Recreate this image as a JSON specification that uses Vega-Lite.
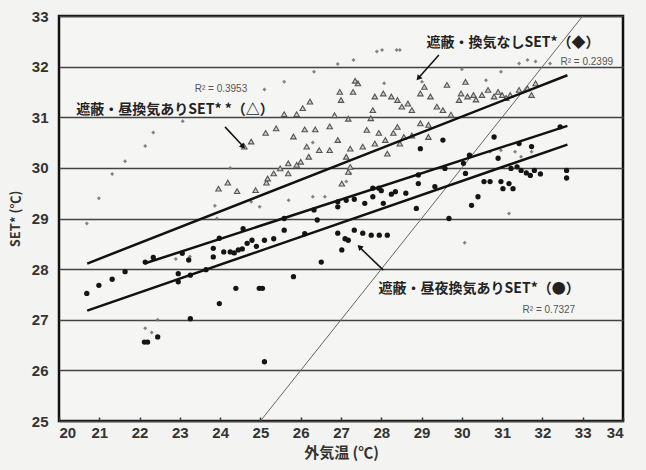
{
  "$schema": "https://vega.github.io/schema/vega-lite/v6.json",
  "width": 564,
  "height": 405,
  "autosize": "none",
  "padding": {"left": 59, "top": 16, "right": 23, "bottom": 49},
  "background": "#f3f3f1",
  "config": {
    "view": {"stroke": "#111", "strokeWidth": 2.5, "fill": "#f5f5f3"},
    "axis": {"labelFont": "Liberation Sans", "labelFontSize": 15, "labelFontWeight": "bold", "labelColor": "#333", "titleFont": "Noto Sans CJK JP", "titleFontWeight": "bold", "titleColor": "#333", "domain": false}
  },
  "datasets": {
    "pts": [
      {"series": "n", "x": 20.69, "y": 28.90}, {"series": "n", "x": 20.99, "y": 29.40}, {"series": "n", "x": 21.32, "y": 29.88}, {"series": "n", "x": 21.64, "y": 30.13},
      {"series": "n", "x": 22.14, "y": 30.43}, {"series": "n", "x": 22.34, "y": 30.70}, {"series": "n", "x": 23.07, "y": 30.92}, {"series": "n", "x": 25.10, "y": 31.55},
      {"series": "n", "x": 25.59, "y": 31.70}, {"series": "n", "x": 26.33, "y": 31.90}, {"series": "n", "x": 26.92, "y": 32.05}, {"series": "n", "x": 27.31, "y": 32.13},
      {"series": "n", "x": 27.89, "y": 32.30}, {"series": "n", "x": 28.02, "y": 32.33}, {"series": "n", "x": 28.38, "y": 32.33}, {"series": "n", "x": 28.46, "y": 32.33},
      {"series": "n", "x": 30.00, "y": 31.95}, {"series": "n", "x": 30.97, "y": 31.90}, {"series": "n", "x": 31.42, "y": 32.06}, {"series": "n", "x": 31.63, "y": 32.13},
      {"series": "n", "x": 31.83, "y": 32.10}, {"series": "n", "x": 32.19, "y": 32.06}, {"series": "n", "x": 28.07, "y": 31.67}, {"series": "n", "x": 29.01, "y": 31.70},
      {"series": "n", "x": 30.60, "y": 31.73}, {"series": "n", "x": 23.87, "y": 29.25}, {"series": "n", "x": 23.92, "y": 29.00}, {"series": "n", "x": 22.14, "y": 26.83},
      {"series": "n", "x": 22.30, "y": 26.75}, {"series": "n", "x": 22.45, "y": 27.00}, {"series": "n", "x": 31.17, "y": 29.10}, {"series": "n", "x": 30.07, "y": 28.52},
      {"series": "n", "x": 30.70, "y": 30.32}, {"series": "n", "x": 30.97, "y": 30.35}, {"series": "n", "x": 31.32, "y": 30.32}, {"series": "n", "x": 31.47, "y": 30.22},
      {"series": "n", "x": 31.73, "y": 30.32}, {"series": "n", "x": 26.30, "y": 29.43}, {"series": "n", "x": 26.60, "y": 29.43}, {"series": "n", "x": 25.70, "y": 29.36},
      {"series": "n", "x": 24.98, "y": 29.23}, {"series": "n", "x": 24.77, "y": 29.33}, {"series": "n", "x": 22.90, "y": 28.20}, {"series": "n", "x": 23.25, "y": 28.25},
      {"series": "n", "x": 27.23, "y": 29.89}, {"series": "n", "x": 27.13, "y": 29.73}, {"series": "n", "x": 24.25, "y": 30.00}, {"series": "n", "x": 26.30, "y": 30.50},

      {"series": "d", "x": 23.96, "y": 29.59}, {"series": "d", "x": 24.19, "y": 29.71}, {"series": "d", "x": 24.42, "y": 29.54}, {"series": "d", "x": 24.88, "y": 29.56},
      {"series": "d", "x": 25.15, "y": 29.71}, {"series": "d", "x": 24.60, "y": 30.42}, {"series": "d", "x": 24.77, "y": 30.52}, {"series": "d", "x": 25.13, "y": 30.69},
      {"series": "d", "x": 25.39, "y": 30.78}, {"series": "d", "x": 25.59, "y": 31.06}, {"series": "d", "x": 25.90, "y": 31.06}, {"series": "d", "x": 26.05, "y": 31.18},
      {"series": "d", "x": 26.23, "y": 31.31}, {"series": "d", "x": 25.82, "y": 30.62}, {"series": "d", "x": 26.10, "y": 30.76}, {"series": "d", "x": 26.36, "y": 30.76},
      {"series": "d", "x": 26.72, "y": 30.82}, {"series": "d", "x": 26.97, "y": 31.50}, {"series": "d", "x": 27.00, "y": 31.34}, {"series": "d", "x": 27.30, "y": 31.50},
      {"series": "d", "x": 27.42, "y": 31.67}, {"series": "d", "x": 27.35, "y": 31.72}, {"series": "d", "x": 26.84, "y": 31.04}, {"series": "d", "x": 27.18, "y": 30.97},
      {"series": "d", "x": 26.92, "y": 30.55}, {"series": "d", "x": 27.23, "y": 30.38}, {"series": "d", "x": 26.72, "y": 30.35}, {"series": "d", "x": 26.46, "y": 30.35},
      {"series": "d", "x": 26.20, "y": 30.22}, {"series": "d", "x": 26.00, "y": 30.12}, {"series": "d", "x": 25.90, "y": 30.06}, {"series": "d", "x": 25.69, "y": 30.09},
      {"series": "d", "x": 25.49, "y": 29.99}, {"series": "d", "x": 25.33, "y": 29.89}, {"series": "d", "x": 25.18, "y": 29.79}, {"series": "d", "x": 26.15, "y": 30.42},
      {"series": "d", "x": 27.13, "y": 30.22}, {"series": "d", "x": 27.54, "y": 30.42}, {"series": "d", "x": 27.64, "y": 30.75}, {"series": "d", "x": 27.74, "y": 30.98},
      {"series": "d", "x": 27.79, "y": 31.14}, {"series": "d", "x": 27.84, "y": 31.41}, {"series": "d", "x": 28.05, "y": 31.47}, {"series": "d", "x": 28.25, "y": 31.41},
      {"series": "d", "x": 28.40, "y": 31.34}, {"series": "d", "x": 28.51, "y": 31.21}, {"series": "d", "x": 28.66, "y": 31.27}, {"series": "d", "x": 28.76, "y": 31.14},
      {"series": "d", "x": 27.94, "y": 30.69}, {"series": "d", "x": 28.10, "y": 30.55}, {"series": "d", "x": 28.30, "y": 30.69}, {"series": "d", "x": 28.40, "y": 30.81},
      {"series": "d", "x": 28.56, "y": 30.61}, {"series": "d", "x": 28.76, "y": 30.64}, {"series": "d", "x": 28.15, "y": 30.28}, {"series": "d", "x": 28.97, "y": 31.47},
      {"series": "d", "x": 29.07, "y": 31.60}, {"series": "d", "x": 29.22, "y": 31.41}, {"series": "d", "x": 28.97, "y": 30.88}, {"series": "d", "x": 29.17, "y": 30.85},
      {"series": "d", "x": 29.38, "y": 31.21}, {"series": "d", "x": 29.53, "y": 31.14}, {"series": "d", "x": 29.63, "y": 31.64}, {"series": "d", "x": 29.73, "y": 31.05},
      {"series": "d", "x": 30.09, "y": 31.70}, {"series": "d", "x": 30.14, "y": 31.41}, {"series": "d", "x": 30.29, "y": 31.44}, {"series": "d", "x": 30.50, "y": 31.44},
      {"series": "d", "x": 30.65, "y": 31.54}, {"series": "d", "x": 30.80, "y": 31.41}, {"series": "d", "x": 31.00, "y": 31.44}, {"series": "d", "x": 31.20, "y": 31.44},
      {"series": "d", "x": 31.42, "y": 31.54}, {"series": "d", "x": 31.63, "y": 31.57}, {"series": "d", "x": 31.73, "y": 31.44}, {"series": "d", "x": 31.83, "y": 31.67},
      {"series": "d", "x": 29.93, "y": 31.34}, {"series": "d", "x": 29.98, "y": 31.47}, {"series": "d", "x": 29.17, "y": 30.61}, {"series": "d", "x": 28.46, "y": 30.48},
      {"series": "d", "x": 27.84, "y": 30.48}, {"series": "d", "x": 27.02, "y": 29.69}, {"series": "d", "x": 27.18, "y": 29.92}, {"series": "d", "x": 27.23, "y": 30.02},
      {"series": "d", "x": 25.69, "y": 29.89}, {"series": "d", "x": 30.35, "y": 31.35}, {"series": "d", "x": 30.90, "y": 31.50}, {"series": "d", "x": 31.10, "y": 31.38},

      {"series": "dn", "x": 20.69, "y": 27.52}, {"series": "dn", "x": 20.99, "y": 27.68}, {"series": "dn", "x": 21.32, "y": 27.80}, {"series": "dn", "x": 21.64, "y": 27.95},
      {"series": "dn", "x": 22.14, "y": 28.14}, {"series": "dn", "x": 22.34, "y": 28.23}, {"series": "dn", "x": 23.06, "y": 28.31}, {"series": "dn", "x": 23.22, "y": 28.18},
      {"series": "dn", "x": 22.96, "y": 27.91}, {"series": "dn", "x": 22.96, "y": 27.75}, {"series": "dn", "x": 23.26, "y": 27.88}, {"series": "dn", "x": 23.65, "y": 27.99},
      {"series": "dn", "x": 23.83, "y": 28.41}, {"series": "dn", "x": 23.98, "y": 28.61}, {"series": "dn", "x": 23.83, "y": 28.24}, {"series": "dn", "x": 24.09, "y": 28.34},
      {"series": "dn", "x": 24.25, "y": 28.34}, {"series": "dn", "x": 24.35, "y": 28.32}, {"series": "dn", "x": 24.45, "y": 28.38}, {"series": "dn", "x": 24.55, "y": 28.40},
      {"series": "dn", "x": 24.57, "y": 28.80}, {"series": "dn", "x": 24.67, "y": 28.51}, {"series": "dn", "x": 24.79, "y": 28.57}, {"series": "dn", "x": 24.90, "y": 28.45},
      {"series": "dn", "x": 25.10, "y": 28.57}, {"series": "dn", "x": 25.33, "y": 28.60}, {"series": "dn", "x": 25.59, "y": 28.77}, {"series": "dn", "x": 25.59, "y": 29.00},
      {"series": "dn", "x": 26.10, "y": 28.70}, {"series": "dn", "x": 26.33, "y": 29.17}, {"series": "dn", "x": 26.41, "y": 28.97}, {"series": "dn", "x": 26.51, "y": 28.14},
      {"series": "dn", "x": 25.82, "y": 27.85}, {"series": "dn", "x": 24.39, "y": 27.62}, {"series": "dn", "x": 23.98, "y": 27.32}, {"series": "dn", "x": 23.26, "y": 27.02},
      {"series": "dn", "x": 22.12, "y": 26.56}, {"series": "dn", "x": 22.20, "y": 26.56}, {"series": "dn", "x": 22.45, "y": 26.66}, {"series": "dn", "x": 24.97, "y": 27.62},
      {"series": "dn", "x": 25.05, "y": 27.62}, {"series": "dn", "x": 25.10, "y": 26.17}, {"series": "dn", "x": 26.92, "y": 29.23}, {"series": "dn", "x": 26.92, "y": 29.33},
      {"series": "dn", "x": 27.13, "y": 29.36}, {"series": "dn", "x": 27.33, "y": 29.38}, {"series": "dn", "x": 26.92, "y": 28.71}, {"series": "dn", "x": 27.02, "y": 28.38},
      {"series": "dn", "x": 27.18, "y": 28.57}, {"series": "dn", "x": 27.33, "y": 28.77}, {"series": "dn", "x": 27.54, "y": 28.71}, {"series": "dn", "x": 27.75, "y": 28.67},
      {"series": "dn", "x": 27.95, "y": 28.67}, {"series": "dn", "x": 28.15, "y": 28.67}, {"series": "dn", "x": 27.10, "y": 28.60}, {"series": "dn", "x": 27.59, "y": 29.30},
      {"series": "dn", "x": 27.79, "y": 29.43}, {"series": "dn", "x": 27.94, "y": 29.60}, {"series": "dn", "x": 28.05, "y": 29.30}, {"series": "dn", "x": 28.35, "y": 29.53},
      {"series": "dn", "x": 28.61, "y": 29.50}, {"series": "dn", "x": 28.87, "y": 29.20}, {"series": "dn", "x": 28.92, "y": 29.69}, {"series": "dn", "x": 28.92, "y": 29.86},
      {"series": "dn", "x": 28.97, "y": 30.38}, {"series": "dn", "x": 29.33, "y": 29.63}, {"series": "dn", "x": 29.53, "y": 30.55}, {"series": "dn", "x": 29.58, "y": 29.99},
      {"series": "dn", "x": 29.68, "y": 29.00}, {"series": "dn", "x": 30.04, "y": 30.09}, {"series": "dn", "x": 30.09, "y": 29.89}, {"series": "dn", "x": 30.24, "y": 29.26},
      {"series": "dn", "x": 30.40, "y": 29.43}, {"series": "dn", "x": 30.55, "y": 29.73}, {"series": "dn", "x": 30.70, "y": 29.73}, {"series": "dn", "x": 30.80, "y": 30.61},
      {"series": "dn", "x": 30.90, "y": 30.19}, {"series": "dn", "x": 30.97, "y": 29.73}, {"series": "dn", "x": 31.02, "y": 29.59}, {"series": "dn", "x": 31.17, "y": 29.69},
      {"series": "dn", "x": 31.22, "y": 29.99}, {"series": "dn", "x": 31.27, "y": 29.59}, {"series": "dn", "x": 31.37, "y": 30.02}, {"series": "dn", "x": 31.47, "y": 29.95},
      {"series": "dn", "x": 31.60, "y": 29.90}, {"series": "dn", "x": 31.70, "y": 29.85}, {"series": "dn", "x": 31.80, "y": 29.95}, {"series": "dn", "x": 31.95, "y": 29.88},
      {"series": "dn", "x": 31.42, "y": 30.48}, {"series": "dn", "x": 31.73, "y": 30.42}, {"series": "dn", "x": 32.44, "y": 30.81}, {"series": "dn", "x": 32.60, "y": 29.95},
      {"series": "dn", "x": 32.60, "y": 29.80}, {"series": "dn", "x": 27.79, "y": 29.60}, {"series": "dn", "x": 28.00, "y": 29.55}, {"series": "dn", "x": 28.25, "y": 29.48},
      {"series": "dn", "x": 30.19, "y": 30.25}
    ],
    "fits": [
      {"name": "換気なし", "x": 20.70, "y": 28.11, "x2": 32.62, "y2": 31.83},
      {"name": "昼換気", "x": 22.12, "y": 28.11, "x2": 32.62, "y2": 30.83},
      {"name": "昼夜換気", "x": 20.70, "y": 27.18, "x2": 32.62, "y2": 30.46}
    ],
    "labels": [
      {"label": "遮蔽・換気なしSET*（◆）", "x": 31.27, "y": 32.47},
      {"label": "遮蔽・昼換気ありSET* *（△）", "x": 22.88, "y": 31.14},
      {"label": "遮蔽・昼夜換気ありSET*（●）", "x": 30.43, "y": 27.60}
    ],
    "r2": [
      {"label": "R² = 0.2399", "x": 33.10, "y": 32.09},
      {"label": "R² = 0.3953", "x": 24.02, "y": 31.56},
      {"label": "R² = 0.7327", "x": 32.16, "y": 27.19}
    ]
  },
  "layer": [
    {
      "data": {"values": [{"x": 25, "y": 25, "x2": 33, "y2": 33}]},
      "mark": {"type": "rule", "stroke": "#666", "strokeWidth": 1},
      "encoding": {
        "x": {"field": "x", "type": "quantitative", "scale": {"domain": [20, 34], "nice": false}, "axis": {"values": [20,21,22,23,24,25,26,27,28,29,30,31,32,33,34], "grid": false, "tickSize": -4, "tickColor": "#333", "tickWidth": 1.5, "labelPadding": 8, "title": "外気温 (℃)", "titleFontSize": 15, "titlePadding": 5}},
        "y": {"field": "y", "type": "quantitative", "scale": {"domain": [25, 33], "nice": false}, "axis": {"values": [25,26,27,28,29,30,31,32,33], "grid": true, "gridColor": "#444", "gridWidth": 1.5, "ticks": false, "labelPadding": 11, "title": "SET* (℃)", "titleFontSize": 13, "titlePadding": 9}},
        "x2": {"field": "x2"},
        "y2": {"field": "y2"}
      }
    },
    {
      "data": {"name": "pts"},
      "transform": [{"filter": "datum.series == 'n'"}],
      "mark": {"type": "point", "shape": "diamond", "filled": true, "size": 16, "color": "#777", "opacity": 0.9},
      "encoding": {"x": {"field": "x", "type": "quantitative"}, "y": {"field": "y", "type": "quantitative"}}
    },
    {
      "data": {"name": "pts"},
      "transform": [{"filter": "datum.series == 'd'"}],
      "mark": {"type": "point", "shape": "triangle-up", "filled": true, "size": 30, "fill": "#ccc", "stroke": "#555", "strokeWidth": 1.1, "opacity": 1},
      "encoding": {"x": {"field": "x", "type": "quantitative"}, "y": {"field": "y", "type": "quantitative"}}
    },
    {
      "data": {"name": "pts"},
      "transform": [{"filter": "datum.series == 'dn'"}],
      "mark": {"type": "point", "shape": "circle", "filled": true, "size": 28, "color": "#151515", "opacity": 1},
      "encoding": {"x": {"field": "x", "type": "quantitative"}, "y": {"field": "y", "type": "quantitative"}}
    },
    {
      "data": {"name": "fits"},
      "mark": {"type": "rule", "stroke": "#111", "strokeWidth": 2.5},
      "encoding": {"x": {"field": "x", "type": "quantitative"}, "y": {"field": "y", "type": "quantitative"}, "x2": {"field": "x2"}, "y2": {"field": "y2"}}
    },
    {
      "data": {"values": [
        {"x": 29.43, "y": 32.23, "x2": 28.95, "y2": 31.80},
        {"x": 24.12, "y": 30.81, "x2": 24.54, "y2": 30.45},
        {"x": 28.05, "y": 27.98, "x2": 27.49, "y2": 28.41}
      ]},
      "mark": {"type": "rule", "stroke": "#111", "strokeWidth": 1.5},
      "encoding": {"x": {"field": "x", "type": "quantitative"}, "y": {"field": "y", "type": "quantitative"}, "x2": {"field": "x2"}, "y2": {"field": "y2"}}
    },
    {
      "data": {"values": [{"x": 28.92, "y": 31.77}]},
      "mark": {"type": "point", "shape": "triangle-up", "filled": true, "size": 40, "color": "#111", "opacity": 1, "angle": 221},
      "encoding": {"x": {"field": "x", "type": "quantitative"}, "y": {"field": "y", "type": "quantitative"}}
    },
    {
      "data": {"values": [{"x": 24.57, "y": 30.42}]},
      "mark": {"type": "point", "shape": "triangle-up", "filled": true, "size": 40, "color": "#111", "opacity": 1, "angle": 137},
      "encoding": {"x": {"field": "x", "type": "quantitative"}, "y": {"field": "y", "type": "quantitative"}}
    },
    {
      "data": {"values": [{"x": 27.46, "y": 28.44}]},
      "mark": {"type": "point", "shape": "triangle-up", "filled": true, "size": 40, "color": "#111", "opacity": 1, "angle": 314},
      "encoding": {"x": {"field": "x", "type": "quantitative"}, "y": {"field": "y", "type": "quantitative"}}
    },
    {
      "data": {"name": "labels"},
      "mark": {"type": "text", "font": "Noto Sans CJK JP", "fontSize": 14, "fontWeight": "bold", "color": "#222", "align": "center", "baseline": "middle"},
      "encoding": {"x": {"field": "x", "type": "quantitative"}, "y": {"field": "y", "type": "quantitative"}, "text": {"field": "label"}}
    },
    {
      "data": {"name": "r2"},
      "mark": {"type": "text", "font": "Liberation Sans", "fontSize": 10, "color": "#555", "align": "center", "baseline": "middle"},
      "encoding": {"x": {"field": "x", "type": "quantitative"}, "y": {"field": "y", "type": "quantitative"}, "text": {"field": "label"}}
    }
  ]
}
